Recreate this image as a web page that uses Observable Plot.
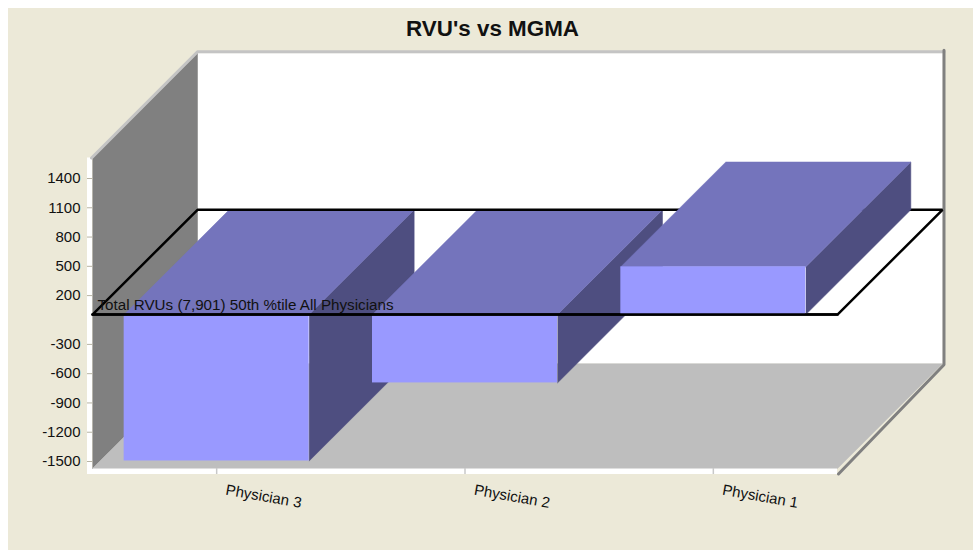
<!DOCTYPE html>
<html>
<head>
<meta charset="utf-8">
<script src="https://cdn.jsdelivr.net/npm/d3@7"></script>
<script src="https://cdn.jsdelivr.net/npm/@observablehq/plot@0.6"></script>
<style>
  html, body { padding: 0; overflow: hidden; background: #fff; }
  body { margin: 8px 0 0 8px; }
  svg { display: block; }
</style>
</head>
<body>
<div id="chart"></div>
<script>
const categories = ["Physician 3", "Physician 2", "Physician 1"];
const values = [-1500, -700, 490];
const yTicks = [1400, 1100, 800, 500, 200, -300, -600, -900, -1200, -1500];
const chartTitle = "RVU's vs MGMA";
const planeLabel = "Total RVUs (7,901) 50th %tile All Physicians";

// Geometry of the pseudo-3D box, in data units of the two scales
const barWidth = 0.745;
const depthX = 0.4228, depthY = 1074;
const floorV = -1577, wallTopV = 1605, nCat = categories.length;
const pxX = 1 / 248.33, pxY = 1 / 0.0978;

const FRONT = "#9999FF", TOP = "#7474BC", SIDE = "#4E4E80";
const WALL = "#808080", FLOOR = "#BEBEBE", EDGE = "#C4C4C4", PLANE = "#000";

const pts = (...p) => p.map(([x, y]) => ({x, y}));
const poly = (fill, ...p) => Plot.line(pts(...p), {x: "x", y: "y", fill, stroke: fill, strokeWidth: 0.5});
const path = (stroke, strokeWidth, ...p) => Plot.line(pts(...p), {x: "x", y: "y", stroke, strokeWidth, strokeLinejoin: "miter"});

function barMarks(i) {
  const v = values[i];
  const x1 = i + 0.5 - barWidth / 2, x2 = i + 0.5 + barWidth / 2;
  const hi = Math.max(v, 0), lo = Math.min(v, 0);
  return [
    poly(SIDE, [x2, lo], [x2 + depthX, lo + depthY], [x2 + depthX, hi + depthY], [x2, hi]),
    poly(TOP, [x1, hi], [x1 + depthX, hi + depthY], [x2 + depthX, hi + depthY], [x2, hi]),
    Plot.rect([{x1, x2, y1: lo, y2: hi}], {x1: "x1", x2: "x2", y1: "y1", y2: "y2", fill: FRONT})
  ];
}

const planeOutline = path(PLANE, 2.5,
  [0, 0], [depthX, depthY], [nCat + depthX, depthY], [nCat, 0], [0, 0]);

const chart = Plot.plot({
  width: 965,
  height: 542,
  marginLeft: 84,
  marginRight: 136,
  marginTop: 169.5,
  marginBottom: 89.5,
  x: {type: "linear", domain: [0, nCat], axis: null},
  y: {type: "linear", domain: [-1500, 1400], axis: null},
  style: {background: "#ECE9D8", fontFamily: "'Liberation Sans', Arial, sans-serif", overflow: "visible"},
  marks: [
    // white bands in front of the wall and floor
    Plot.rect([0], {x1: -5 * pxX, x2: 0, y1: floorV - 6 * pxY, y2: wallTopV, fill: "#fff"}),
    Plot.rect([0], {x1: -5 * pxX, x2: nCat, y1: floorV - 6 * pxY, y2: floorV, fill: "#fff"}),
    // back wall, left wall, floor
    poly("#fff", [depthX, floorV + depthY], [depthX, wallTopV + depthY], [nCat + depthX, wallTopV + depthY], [nCat + depthX, floorV + depthY]),
    poly(WALL, [0, floorV], [depthX, floorV + depthY], [depthX, wallTopV + depthY], [0, wallTopV]),
    poly(FLOOR, [0, floorV], [depthX, floorV + depthY], [nCat + depthX, floorV + depthY], [nCat, floorV]),
    // box edges
    path(EDGE, 3,
      [-1 * pxX, wallTopV], [depthX, wallTopV + depthY + 1.5 * pxY], [nCat + depthX + 1.5 * pxX, wallTopV + depthY + 1.5 * pxY]),
    path(WALL, 3,
      [nCat + depthX + 1.5 * pxX, wallTopV + depthY + 3 * pxY],
      [nCat + depthX + 1.5 * pxX, floorV + depthY - 1 * pxY],
      [nCat + 1 * pxX, floorV - 5.5 * pxY]),
    // bars, back-to-front in drawing order
    ...barMarks(0),
    ...barMarks(1),
    planeOutline,
    ...barMarks(2),
    path(PLANE, 2.5, [0, 0], [nCat, 0]),
    // axes
    Plot.axisY({
      ticks: yTicks, tickSize: 5, tickPadding: 7, tickFormat: d => String(d),
      fontSize: 15, stroke: "#B8B4A4", color: "#111", label: null, anchor: "left", dy: 0.5
    }),
    Plot.ruleX(categories.map((d, i) => i + 0.5), {
      y1: floorV - 6 * pxY, y2: floorV, stroke: "#C8C8C8", strokeWidth: 1.5
    }),
    Plot.text(categories, {
      x: (d, i) => i + 0.5 + 47 * pxX,
      y: floorV - 28 * pxY,
      text: d => d, rotate: 10, fontSize: 15, fill: "#111"
    }),
    // plane label and title
    Plot.text([planeLabel], {
      x: 5 * pxX, y: 98, text: d => d, textAnchor: "start", fontSize: 15.2, fill: "#111"
    }),
    Plot.text([chartTitle], {
      x: 400 * pxX, y: 2930, text: d => d, fontSize: 22.4, fontWeight: 700, fill: "#111"
    })
  ]
});
document.getElementById("chart").appendChild(chart);
</script>
</body>
</html>
